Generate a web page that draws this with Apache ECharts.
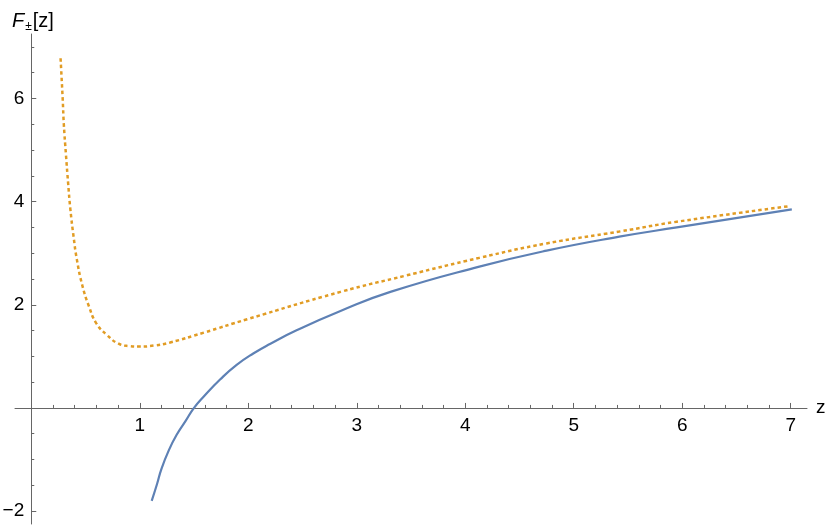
<!DOCTYPE html>
<html>
<head>
<meta charset="utf-8">
<script src="https://cdn.jsdelivr.net/npm/echarts@6/dist/echarts.min.js"></script>
<style>
  html, body { margin: 0; padding: 0; background: #fff; }
  #main { width: 830px; height: 525px; }
</style>
</head>
<body>
<div id="main"></div>
<script>
// F_- (solid)
var blueZ = [1.11, 1.16, 1.20, 1.27, 1.34, 1.42, 1.50, 1.59, 1.74, 1.89, 2.05, 2.20, 2.45, 2.85, 3.31, 4.13, 4.75, 5.42, 5.95, 7.01];
var blueF = [-1.80, -1.47, -1.18, -0.81, -0.52, -0.26, 0.00, 0.22, 0.55, 0.83, 1.06, 1.24, 1.51, 1.88, 2.25, 2.74, 3.05, 3.32, 3.50, 3.85];

// F_+ (dotted)
var orangeZ = [0.27, 0.29, 0.30, 0.32, 0.34, 0.36, 0.39, 0.42, 0.47, 0.53, 0.60, 0.70, 0.80, 0.90, 1.00, 1.13, 1.28, 1.59, 1.99, 2.85, 3.46, 4.13, 4.75, 5.42, 5.95, 6.98];
var orangeF = [6.78, 5.97, 5.50, 4.90, 4.35, 3.86, 3.32, 2.88, 2.38, 1.98, 1.64, 1.41, 1.25, 1.20, 1.19, 1.21, 1.27, 1.46, 1.72, 2.25, 2.57, 2.91, 3.19, 3.42, 3.61, 3.91];

// ticks
var xMajor = [1, 2, 3, 4, 5, 6, 7];
var xMinor = [0.2, 0.4, 0.6, 0.8, 1.2, 1.4, 1.6, 1.8, 2.2, 2.4, 2.6, 2.8, 3.2, 3.4, 3.6, 3.8,
              4.2, 4.4, 4.6, 4.8, 5.2, 5.4, 5.6, 5.8, 6.2, 6.4, 6.6, 6.8];
var yMajor = [-2, 2, 4, 6];
var yMinor = [-1.5, -1, -0.5, 0.5, 1, 1.5, 2.5, 3, 3.5, 4.5, 5, 5.5, 6.5, 7];

function pairs(xs, ys) {
    var out = [];
    for (var i = 0; i < xs.length; i++) out.push([xs[i], ys[i]]);
    return out;
}

var FONT = "'Liberation Sans', Arial, sans-serif";
var AXIS_COLOR = '#666';
var X_MIN = -0.15, X_MAX = 7.15;
var Y_MIN = -2.25, Y_MAX = 7.25;
// grid box in pixels
var G_LEFT = 15, G_RIGHT = 807, G_TOP = 34, G_BOTTOM = 524;
// axes cross at z=0 / F=0 : shift them in from the grid edges
var xOff = -(G_BOTTOM - G_TOP) * (0 - Y_MIN) / (Y_MAX - Y_MIN);
var yOff = -(G_RIGHT - G_LEFT) * (0 - X_MIN) / (X_MAX - X_MIN);

var chart = echarts.init(document.getElementById('main'));

var option = {
    animation: false,
    title: {
        left: 7,
        top: 4,
        text: '{f|F}{pm|±}{b|[z]}',
        textStyle: {
            rich: {
                f: { fontFamily: FONT, fontStyle: 'italic', fontWeight: 'normal', fontSize: 20, color: '#000' },
                pm: { fontFamily: FONT, fontWeight: 'normal', fontSize: 12, color: '#000', padding: [12, 1, 0, 1] },
                b: { fontFamily: FONT, fontWeight: 'normal', fontSize: 20, color: '#000' }
            }
        }
    },
    grid: {
        left: G_LEFT, right: 830 - G_RIGHT, top: G_TOP, bottom: 525 - G_BOTTOM,
        containLabel: false, outerBoundsMode: 'none'
    },
    xAxis: [
        {
            type: 'value', min: X_MIN, max: X_MAX, position: 'bottom', offset: xOff,
            name: 'z', nameLocation: 'end', nameGap: 9,
            nameTextStyle: { fontFamily: FONT, fontSize: 19, color: '#000', verticalAlign: 'middle' },
            axisLine: { onZero: false, lineStyle: { color: AXIS_COLOR, width: 1 } },
            axisTick: { show: true, inside: true, length: 5, customValues: xMajor, lineStyle: { color: AXIS_COLOR } },
            axisLabel: { customValues: xMajor, margin: 8, fontFamily: FONT, fontSize: 19, color: '#000' },
            splitLine: { show: false }
        },
        {
            type: 'value', min: X_MIN, max: X_MAX, position: 'bottom', offset: xOff,
            axisLine: { show: false, onZero: false },
            axisTick: { show: true, inside: true, length: 3, customValues: xMinor, lineStyle: { color: AXIS_COLOR } },
            axisLabel: { show: false },
            splitLine: { show: false }
        }
    ],
    yAxis: [
        {
            type: 'value', min: Y_MIN, max: Y_MAX, position: 'left', offset: yOff,
            axisLine: { show: true, onZero: false, lineStyle: { color: AXIS_COLOR, width: 1 } },
            axisTick: { show: true, inside: true, length: 5, customValues: yMajor, lineStyle: { color: AXIS_COLOR } },
            axisLabel: {
                customValues: yMajor, margin: 7, fontFamily: FONT, fontSize: 19, color: '#000',
                formatter: function (v) { return String(v).replace('-', '\u2212'); }
            },
            splitLine: { show: false }
        },
        {
            type: 'value', min: Y_MIN, max: Y_MAX, position: 'left', offset: yOff,
            axisLine: { show: false, onZero: false },
            axisTick: { show: true, inside: true, length: 3, customValues: yMinor, lineStyle: { color: AXIS_COLOR } },
            axisLabel: { show: false },
            splitLine: { show: false }
        }
    ],
    series: [
        {
            name: 'F-', type: 'line', xAxisIndex: 0, yAxisIndex: 0,
            data: pairs(blueZ, blueF),
            smooth: 0.5, showSymbol: false,
            lineStyle: { color: '#5e81b5', width: 2.2 }
        },
        {
            name: 'F+', type: 'line', xAxisIndex: 0, yAxisIndex: 0,
            data: pairs(orangeZ, orangeF),
            smooth: 0.5, showSymbol: false,
            lineStyle: { color: '#e19c24', width: 2.5, type: [3.5, 3] }
        }
    ]
};

chart.setOption(option);
</script>
</body>
</html>
